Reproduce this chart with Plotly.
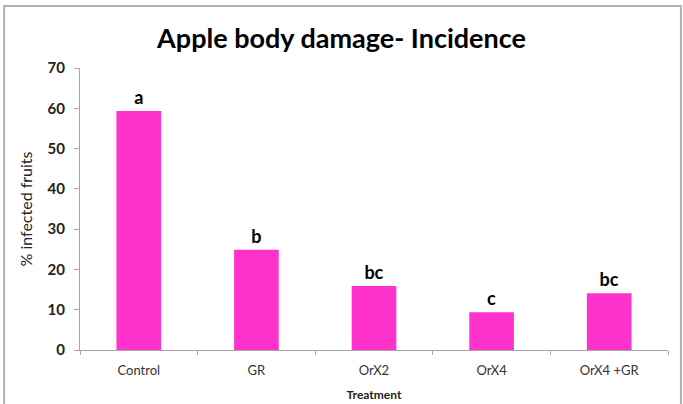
import plotly.graph_objects as go

treatments = ["Control", "GR", "OrX2", "OrX4", "OrX4 +GR"]
infected = [59.3, 24.9, 15.9, 9.4, 14.1]
letters = ["a", "b", "bc", "c", "bc"]

fig = go.Figure(go.Bar(
    x=treatments,
    y=infected,
    text=letters,
    textposition="outside",
    textfont=dict(family="Lato", size=18, color="black", weight="bold"),
    cliponaxis=False,
    marker=dict(color="#ff33cc", line=dict(width=0)),
))

fig.update_layout(
    width=683,
    height=404,
    margin=dict(l=80, r=15, t=68, b=54),
    paper_bgcolor="white",
    plot_bgcolor="white",
    bargap=0.62,
    showlegend=False,
    title=dict(
        text="<b>Apple body damage- Incidence</b>",
        font=dict(family="Lato", size=27, color="black"),
        x=0.5,
        xanchor="center",
        y=0.905,
        yanchor="middle",
    ),
    font=dict(family="Lato", color="#222222"),
)

fig.update_xaxes(
    automargin=False,
    showline=True,
    linecolor="#a6a6a6",
    linewidth=1,
    ticks="outside",
    tickson="boundaries",
    ticklen=4,
    tickcolor="#a6a6a6",
    ticklabelstandoff=8,
    tickfont=dict(size=13, color="#333333"),
    title=dict(text="<b>Treatment</b>", font=dict(size=12, color="#222222"), standoff=14),
)

fig.update_yaxes(
    automargin=False,
    range=[0, 70],
    dtick=10,
    showgrid=False,
    zeroline=False,
    showline=True,
    linecolor="#a6a6a6",
    linewidth=1,
    ticks="outside",
    ticklen=5,
    tickcolor="#a6a6a6",
    ticklabelstandoff=6,
    tickfont=dict(size=15, color="#222222", weight="bold"),
    title=dict(text="% infected fruits", font=dict(size=16, color="#222222"), standoff=10),
)

# frame around the chart area
fig.add_shape(
    type="rect",
    xref="paper", yref="paper",
    x0=-0.129, x1=1.022, y0=-0.213, y1=1.22,
    line=dict(color="#b0b0b0", width=2),
    fillcolor="rgba(0,0,0,0)",
)

fig.write_html(
    "out.html",
    config={"displayModeBar": False},
    post_script="document.body.style.margin='0';",
)
